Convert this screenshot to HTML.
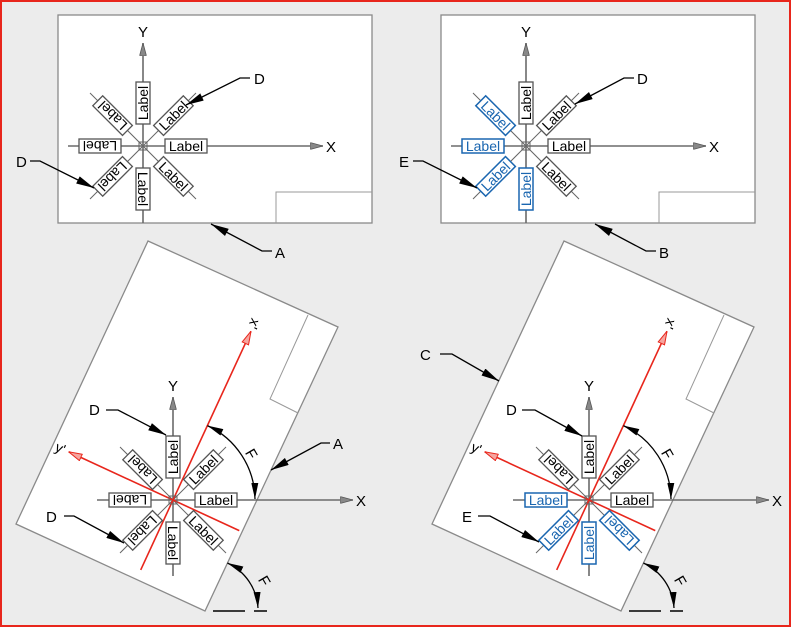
<!DOCTYPE html>
<html><head><meta charset="utf-8"><style>
html,body{margin:0;padding:0;background:#ececec}
svg{display:block}
text{font-family:"Liberation Sans",sans-serif}
.pn{fill:#fff;stroke:#8a8a8a;stroke-width:1.3}
.tb{fill:none;stroke:#999;stroke-width:1}
.ax{stroke:#6b6b6b;stroke-width:1.6}
.dg{stroke:#666;stroke-width:1}
.lb rect{fill:#fff;stroke:#555;stroke-width:1.3}
.lb text{font-size:14px;text-anchor:middle;fill:#000}
.bl rect{fill:#fff;stroke:#1a66b0;stroke-width:1.5}
.bl text{font-size:14px;text-anchor:middle;fill:#1a66b0}
.co{fill:none;stroke:#000;stroke-width:1.3}
.t{font-size:15px;fill:#000}
.red{stroke:#e8261c;stroke-width:1.6;fill:none}
</style></head><body>
<svg width="791" height="627" viewBox="0 0 791 627" xmlns="http://www.w3.org/2000/svg">
<defs>
<marker id="ar" viewBox="0 0 18 8" markerWidth="18" markerHeight="8" markerUnits="userSpaceOnUse" refX="18" refY="4" orient="auto"><path d="M0,0 L18,4 L0,8 z" fill="#000"/></marker>
<marker id="as" viewBox="0 0 16 7" markerWidth="16" markerHeight="7" markerUnits="userSpaceOnUse" refX="16" refY="3.5" orient="auto-start-reverse"><path d="M0,0 L16,3.5 L0,7 z" fill="#000"/></marker>
<marker id="ga" viewBox="0 0 13 7" markerWidth="13" markerHeight="7" markerUnits="userSpaceOnUse" refX="13" refY="3.5" orient="auto"><path d="M0,0 L13,3.5 L0,7 z" fill="#888" stroke="#555" stroke-width="0.8"/></marker>
<marker id="ra" viewBox="0 0 14 8" markerWidth="14" markerHeight="8" markerUnits="userSpaceOnUse" refX="14" refY="4" orient="auto"><path d="M0.5,0.5 L14,4 L0.5,7.5 z" fill="#f6a59f" stroke="#e8261c" stroke-width="1"/></marker>
</defs>
<rect x="1" y="1" width="789" height="625" fill="#ececec" stroke="#e8261c" stroke-width="2"/>

<!-- ===== Panel 1 ===== -->
<rect class="pn" x="58" y="15" width="314" height="208"/>
<polyline class="tb" points="276,223 276,192 372,192"/>
<g transform="translate(143,146)">
<line class="dg" x1="-53" y1="53" x2="53" y2="-53"/><line class="dg" x1="-53" y1="-53" x2="53" y2="53"/>
<line class="ax" x1="-75" y1="0" x2="180" y2="0" marker-end="url(#ga)"/>
<line class="ax" x1="0" y1="77" x2="0" y2="-103" marker-end="url(#ga)"/>
<text class="t" x="183" y="6">X</text><text class="t" x="0" y="-109" text-anchor="middle">Y</text>
<rect x="-4" y="-4" width="8" height="8" fill="none" stroke="#666"/>
<g class="lb"><rect x="22" y="-7" width="42" height="14"/><text x="43" y="5">Label</text></g>
<g class="lb" transform="rotate(-45)"><rect x="22" y="-7" width="42" height="14"/><text x="43" y="5">Label</text></g>
<g class="lb" transform="rotate(-90)"><rect x="22" y="-7" width="42" height="14"/><text x="43" y="5">Label</text></g>
<g class="lb" transform="rotate(-135)"><rect x="22" y="-7" width="42" height="14"/><text x="43" y="5">Label</text></g>
<g class="lb" transform="rotate(180)"><rect x="22" y="-7" width="42" height="14"/><text x="43" y="5">Label</text></g>
<g class="lb" transform="rotate(135)"><rect x="22" y="-7" width="42" height="14"/><text x="43" y="5">Label</text></g>
<g class="lb" transform="rotate(90)"><rect x="22" y="-7" width="42" height="14"/><text x="43" y="5">Label</text></g>
<g class="lb" transform="rotate(45)"><rect x="22" y="-7" width="42" height="14"/><text x="43" y="5">Label</text></g>
</g>
<polyline class="co" points="250,78 240,78 186,105" marker-end="url(#ar)"/><text class="t" x="254" y="84">D</text>
<polyline class="co" points="30,161 40,161 94,188" marker-end="url(#ar)"/><text class="t" x="16" y="167">D</text>
<polyline class="co" points="272,251 262,251 211,224" marker-end="url(#ar)"/><text class="t" x="275" y="258">A</text>

<!-- ===== Panel 2 ===== -->
<rect class="pn" x="441" y="15" width="314" height="208"/>
<polyline class="tb" points="659,223 659,192 755,192"/>
<g transform="translate(526,146)">
<line class="dg" x1="-53" y1="53" x2="53" y2="-53"/><line class="dg" x1="-53" y1="-53" x2="53" y2="53"/>
<line class="ax" x1="-75" y1="0" x2="180" y2="0" marker-end="url(#ga)"/>
<line class="ax" x1="0" y1="77" x2="0" y2="-103" marker-end="url(#ga)"/>
<text class="t" x="183" y="6">X</text><text class="t" x="0" y="-109" text-anchor="middle">Y</text>
<rect x="-4" y="-4" width="8" height="8" fill="none" stroke="#666"/>
<g class="lb"><rect x="22" y="-7" width="42" height="14"/><text x="43" y="5">Label</text></g>
<g class="lb" transform="rotate(-45)"><rect x="22" y="-7" width="42" height="14"/><text x="43" y="5">Label</text></g>
<g class="lb" transform="rotate(-90)"><rect x="22" y="-7" width="42" height="14"/><text x="43" y="5">Label</text></g>
<g class="bl" transform="rotate(-135)"><rect x="22" y="-7" width="42" height="14"/><text x="43" y="5" transform="rotate(180 43 0)">Label</text></g>
<g class="bl" transform="rotate(180)"><rect x="22" y="-7" width="42" height="14"/><text x="43" y="5" transform="rotate(180 43 0)">Label</text></g>
<g class="bl" transform="rotate(135)"><rect x="22" y="-7" width="42" height="14"/><text x="43" y="5" transform="rotate(180 43 0)">Label</text></g>
<g class="bl" transform="rotate(90)"><rect x="22" y="-7" width="42" height="14"/><text x="43" y="5" transform="rotate(180 43 0)">Label</text></g>
<g class="lb" transform="rotate(45)"><rect x="22" y="-7" width="42" height="14"/><text x="43" y="5">Label</text></g>
</g>
<polyline class="co" points="634,78 624,78 575,104" marker-end="url(#ar)"/><text class="t" x="637" y="84">D</text>
<polyline class="co" points="413,161 423,161 477,188" marker-end="url(#ar)"/><text class="t" x="399" y="167">E</text>
<polyline class="co" points="656,251 646,251 595,224" marker-end="url(#ar)"/><text class="t" x="659" y="258">B</text>

<!-- ===== Panel 3 ===== -->
<polygon class="pn" points="148,241 338,327 205,611 16,524"/>
<polyline class="tb" points="308,315 270,399 298,413"/>
<g transform="translate(173,500)">
<line class="dg" x1="-53" y1="53" x2="53" y2="-53"/><line class="dg" x1="-53" y1="-53" x2="53" y2="53"/>
<line class="ax" x1="-76" y1="0" x2="180" y2="0" marker-end="url(#ga)"/>
<line class="ax" x1="0" y1="76" x2="0" y2="-103" marker-end="url(#ga)"/>
<text class="t" x="183" y="6">X</text><text class="t" x="0" y="-109" text-anchor="middle">Y</text>
<g transform="rotate(-65.2)"><line class="red" x1="-77" y1="0" x2="186" y2="0" marker-end="url(#ra)"/><text x="194" y="5" font-size="14" transform="rotate(180 194 0)" text-anchor="middle">x'</text></g>
<g transform="rotate(-155.2)"><line class="red" x1="-73" y1="0" x2="115" y2="0" marker-end="url(#ra)"/><text x="124" y="5" font-size="14" transform="rotate(180 124 0)" text-anchor="middle">y'</text></g>
<rect x="-4" y="-4" width="8" height="8" fill="none" stroke="#666"/>
<g class="lb"><rect x="22" y="-7" width="42" height="14"/><text x="43" y="5">Label</text></g>
<g class="lb" transform="rotate(-45)"><rect x="22" y="-7" width="42" height="14"/><text x="43" y="5">Label</text></g>
<g class="lb" transform="rotate(-90)"><rect x="22" y="-7" width="42" height="14"/><text x="43" y="5">Label</text></g>
<g class="lb" transform="rotate(-135)"><rect x="22" y="-7" width="42" height="14"/><text x="43" y="5">Label</text></g>
<g class="lb" transform="rotate(180)"><rect x="22" y="-7" width="42" height="14"/><text x="43" y="5">Label</text></g>
<g class="lb" transform="rotate(135)"><rect x="22" y="-7" width="42" height="14"/><text x="43" y="5">Label</text></g>
<g class="lb" transform="rotate(90)"><rect x="22" y="-7" width="42" height="14"/><text x="43" y="5">Label</text></g>
<g class="lb" transform="rotate(45)"><rect x="22" y="-7" width="42" height="14"/><text x="43" y="5">Label</text></g>
<path d="M34.4,-74.4 A82,82 0 0 1 82,-1" class="co" marker-start="url(#as)" marker-end="url(#as)"/>
<text class="t" x="76" y="-45" transform="rotate(60 76 -50)">F</text>
</g>
<path d="M227.4,563 A53,53 0 0 1 258,608" class="co" marker-start="url(#as)" marker-end="url(#as)"/>
<line x1="213" y1="611" x2="245" y2="611" stroke="#000" stroke-width="1.5"/>
<line x1="254" y1="611" x2="267" y2="611" stroke="#000" stroke-width="1.5"/>
<text class="t" x="262" y="582" transform="rotate(60 262 577)">F</text>
<polyline class="co" points="106,410 118,410 166,435" marker-end="url(#ar)"/><text class="t" x="89" y="415">D</text>
<polyline class="co" points="64,516 74,516 124,543" marker-end="url(#ar)"/><text class="t" x="46" y="522">D</text>
<polyline class="co" points="330,443 321,443 271,470" marker-end="url(#ar)"/><text class="t" x="333" y="449">A</text>

<!-- ===== Panel 4 ===== -->
<polygon class="pn" points="564,241 754,327 621,611 432,524"/>
<polyline class="tb" points="724,315 686,399 714,413"/>
<g transform="translate(589,500)">
<line class="dg" x1="-53" y1="53" x2="53" y2="-53"/><line class="dg" x1="-53" y1="-53" x2="53" y2="53"/>
<line class="ax" x1="-76" y1="0" x2="180" y2="0" marker-end="url(#ga)"/>
<line class="ax" x1="0" y1="76" x2="0" y2="-103" marker-end="url(#ga)"/>
<text class="t" x="183" y="6">X</text><text class="t" x="0" y="-109" text-anchor="middle">Y</text>
<g transform="rotate(-65.2)"><line class="red" x1="-77" y1="0" x2="186" y2="0" marker-end="url(#ra)"/><text x="194" y="5" font-size="14" transform="rotate(180 194 0)" text-anchor="middle">x'</text></g>
<g transform="rotate(-155.2)"><line class="red" x1="-73" y1="0" x2="115" y2="0" marker-end="url(#ra)"/><text x="124" y="5" font-size="14" transform="rotate(180 124 0)" text-anchor="middle">y'</text></g>
<rect x="-4" y="-4" width="8" height="8" fill="none" stroke="#666"/>
<g class="lb"><rect x="22" y="-7" width="42" height="14"/><text x="43" y="5">Label</text></g>
<g class="lb" transform="rotate(-45)"><rect x="22" y="-7" width="42" height="14"/><text x="43" y="5">Label</text></g>
<g class="lb" transform="rotate(-90)"><rect x="22" y="-7" width="42" height="14"/><text x="43" y="5">Label</text></g>
<g class="lb" transform="rotate(-135)"><rect x="22" y="-7" width="42" height="14"/><text x="43" y="5">Label</text></g>
<g class="bl" transform="rotate(180)"><rect x="22" y="-7" width="42" height="14"/><text x="43" y="5" transform="rotate(180 43 0)">Label</text></g>
<g class="bl" transform="rotate(135)"><rect x="22" y="-7" width="42" height="14"/><text x="43" y="5" transform="rotate(180 43 0)">Label</text></g>
<g class="bl" transform="rotate(90)"><rect x="22" y="-7" width="42" height="14"/><text x="43" y="5" transform="rotate(180 43 0)">Label</text></g>
<g class="bl" transform="rotate(45)"><rect x="22" y="-7" width="42" height="14"/><text x="43" y="5" transform="rotate(180 43 0)">Label</text></g>
<path d="M34.4,-74.4 A82,82 0 0 1 82,-1" class="co" marker-start="url(#as)" marker-end="url(#as)"/>
<text class="t" x="76" y="-45" transform="rotate(60 76 -50)">F</text>
</g>
<path d="M643.4,563 A53,53 0 0 1 674,608" class="co" marker-start="url(#as)" marker-end="url(#as)"/>
<line x1="629" y1="611" x2="661" y2="611" stroke="#000" stroke-width="1.5"/>
<line x1="670" y1="611" x2="683" y2="611" stroke="#000" stroke-width="1.5"/>
<text class="t" x="678" y="582" transform="rotate(60 678 577)">F</text>
<polyline class="co" points="440,354 452,354 499,381" marker-end="url(#ar)"/><text class="t" x="420" y="360">C</text>
<polyline class="co" points="522,410 535,410 582,436" marker-end="url(#ar)"/><text class="t" x="506" y="415">D</text>
<polyline class="co" points="478,516 490,516 539,542" marker-end="url(#ar)"/><text class="t" x="462" y="522">E</text>
</svg>
</body></html>
